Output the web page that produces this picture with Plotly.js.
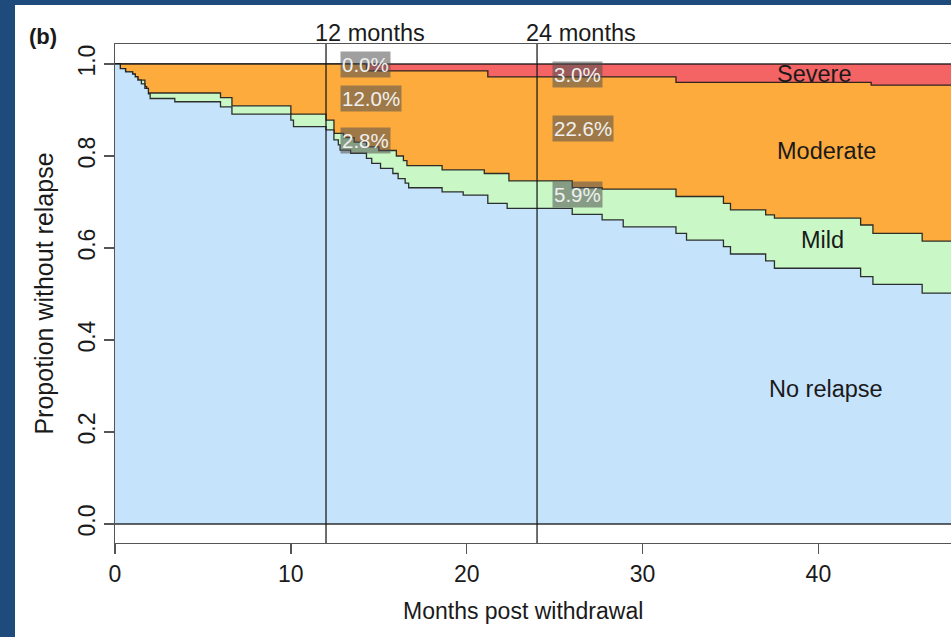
<!DOCTYPE html>
<html>
<head>
<meta charset="utf-8">
<script src="https://cdn.plot.ly/plotly-3.0.1.min.js"></script>
<style>
  html, body { margin: 0; padding: 0; width: 951px; height: 637px; overflow: hidden; background: #1f4a7c; }
  #plot { position: absolute; left: 15px; top: 5px; width: 936px; height: 632px; background: #ffffff; }
</style>
</head>
<body>
<div id="plot"></div>
<script>
// ---- data ----
const blueX = [0, 0.3, 0.6, 1.0, 1.15, 1.3, 1.5, 1.7, 1.9, 2.0, 3.4, 6.0, 6.65, 10.0, 10.15, 12.0, 12.45, 12.7, 12.8, 13.4, 14.3, 14.6, 15.1, 15.8, 16.1, 16.5, 16.7, 18.6, 19.8, 21.2, 22.3, 26.0, 27.7, 28.9, 31.9, 32.5, 34.6, 35.0, 37.0, 37.5, 42.4, 43.1, 45.9, 48];
const blueY = [1.0, 0.990, 0.983, 0.978, 0.972, 0.965, 0.957, 0.947, 0.935, 0.925, 0.918, 0.907, 0.891, 0.878, 0.864, 0.857, 0.835, 0.824, 0.813, 0.806, 0.795, 0.784, 0.773, 0.762, 0.751, 0.741, 0.731, 0.722, 0.715, 0.697, 0.686, 0.673, 0.661, 0.646, 0.632, 0.617, 0.603, 0.587, 0.572, 0.556, 0.538, 0.521, 0.502, 0.502];

const greenX = [0, 0.3, 0.6, 1.0, 1.15, 1.3, 1.7, 1.8, 6.0, 6.65, 10.0, 12.0, 12.45, 13.0, 13.6, 14.3, 15.0, 16.0, 16.4, 16.6, 18.6, 21.0, 22.4, 26.0, 27.7, 31.9, 34.6, 35.0, 37.0, 37.5, 42.4, 43.1, 45.9, 48];
const greenY = [1.0, 0.990, 0.983, 0.978, 0.972, 0.965, 0.951, 0.937, 0.927, 0.909, 0.891, 0.878, 0.849, 0.840, 0.830, 0.820, 0.812, 0.800, 0.790, 0.779, 0.770, 0.762, 0.746, 0.731, 0.728, 0.712, 0.697, 0.683, 0.672, 0.665, 0.650, 0.632, 0.615, 0.615];

const orangeX = [0, 14.3, 21.2, 31.9, 43.0, 48];
const orangeY = [1.0, 0.985, 0.972, 0.960, 0.954, 0.954];

const redX = [0, 48];
const redY = [1.0, 1.0];

const regionNames = ['Severe', 'Moderate', 'Mild', 'No relapse'];
const regionX = [39.75, 40.47, 40.23, 40.42];
const regionY = [0.978, 0.811, 0.618, 0.294];

const pctText = ['0.0%', '12.0%', '2.8%', '3.0%', '22.6%', '5.9%'];
const pctX = [12.82, 12.82, 12.82, 24.83, 24.83, 24.83];
const pctY = [1.0, 0.925, 0.833, 0.977, 0.859, 0.717];

const markMonths = [12, 24];
const markLabels = ['12 months', '24 months'];

const xTicks = [0, 10, 20, 30, 40];
const yTicks = [0, 0.2, 0.4, 0.6, 0.8, 1.0];
const yTickText = ['0.0', '0.2', '0.4', '0.6', '0.8', '1.0'];

// ---- styling ----
const FONT = 'Liberation Sans, Arial, Helvetica, sans-serif';
const lineCol = 'rgba(25,25,25,0.9)';
const fills = { red: '#f46464', orange: '#fdab3d', green: '#c9f8c6', blue: '#c6e3fc' };

function stepTrace(x, y, color, name) {
  return {
    type: 'scatter', mode: 'lines', x: x, y: y, name: name,
    line: { shape: 'hv', color: lineCol, width: 1.3 },
    fill: 'tozeroy', fillcolor: color, hoverinfo: 'skip'
  };
}

const traces = [
  stepTrace(redX, redY, fills.red, 'Severe'),
  stepTrace(orangeX, orangeY, fills.orange, 'Moderate'),
  stepTrace(greenX, greenY, fills.green, 'Mild'),
  stepTrace(blueX, blueY, fills.blue, 'No relapse')
];

const annotations = [];
regionNames.forEach((t, i) => annotations.push({
  x: regionX[i], y: regionY[i], xref: 'x', yref: 'y', text: t, showarrow: false,
  xanchor: 'center', yanchor: 'middle', font: { family: FONT, size: 23.5, color: '#1a1a1a' }
}));
pctText.forEach((t, i) => annotations.push({
  x: pctX[i], y: pctY[i], xref: 'x', yref: 'y', text: t, showarrow: false,
  xanchor: 'left', yanchor: 'middle', bgcolor: 'rgba(80,80,80,0.55)', borderpad: 1,
  font: { family: FONT, size: 20.5, color: '#f0f0f0' }
}));
markMonths.forEach((m, i) => annotations.push({
  x: m, y: 1, xref: 'x', yref: 'paper', text: markLabels[i], showarrow: false,
  xanchor: 'left', yanchor: 'bottom', xshift: -13, yshift: -4,
  font: { family: FONT, size: 23.5, color: '#1a1a1a' }
}));
annotations.push({
  x: 0.488, y: -0.1363, xref: 'paper', yref: 'paper', text: 'Months post withdrawal',
  showarrow: false, xanchor: 'center', yanchor: 'middle',
  font: { family: FONT, size: 23, color: '#1a1a1a' }
});
annotations.push({
  x: -0.0867, y: 1.016, xref: 'paper', yref: 'paper', text: '<b>(b)</b>',
  showarrow: false, xanchor: 'center', yanchor: 'middle',
  font: { family: FONT, size: 22, color: '#1a1a1a' }
});

const shapes = [
  { type: 'line', xref: 'paper', yref: 'y', x0: 0, x1: 1, y0: 0, y1: 0, line: { color: lineCol, width: 1.3 } }
];
markMonths.forEach(m => shapes.push({
  type: 'line', xref: 'x', yref: 'paper', x0: m, x1: m, y0: 0, y1: 1, line: { color: lineCol, width: 1.4 }
}));

const layout = {
  width: 936, height: 632,
  margin: { l: 100, r: 0, t: 39, b: 94 },
  paper_bgcolor: '#ffffff', plot_bgcolor: '#ffffff',
  showlegend: false,
  font: { family: FONT, size: 23, color: '#1a1a1a' },
  xaxis: {
    range: [0, 47.54], tickvals: xTicks, ticktext: xTicks.map(String),
    ticks: 'outside', ticklen: 10, tickwidth: 1.3, tickcolor: '#555',
    showline: true, mirror: true, linecolor: '#555', linewidth: 1.3,
    showgrid: false, zeroline: false, fixedrange: true,
    tickfont: { family: FONT, size: 23, color: '#1a1a1a' }
  },
  yaxis: {
    range: [-0.0413, 1.0435], tickvals: yTicks, ticktext: yTickText, tickangle: -90,
    ticks: 'outside', ticklen: 10, tickwidth: 1.3, tickcolor: '#555',
    showline: true, mirror: false, linecolor: '#555', linewidth: 1.3,
    showgrid: false, zeroline: false, fixedrange: true,
    tickfont: { family: FONT, size: 23, color: '#1a1a1a' },
    title: { text: 'Propotion without relapse', standoff: 12, font: { family: FONT, size: 25, color: '#1a1a1a' } }
  },
  shapes: shapes,
  annotations: annotations
};

Plotly.newPlot('plot', traces, layout, { staticPlot: true, displayModeBar: false });
</script>
</body>
</html>
